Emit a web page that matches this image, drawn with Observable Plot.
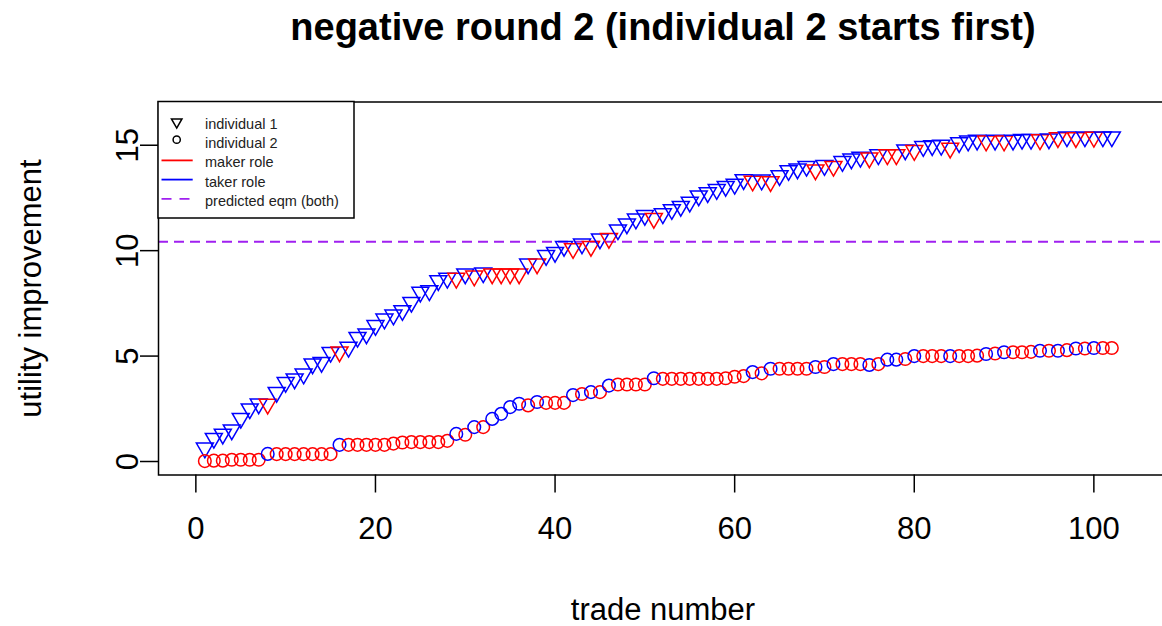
<!DOCTYPE html>
<html>
<head>
<meta charset="utf-8">
<script src="https://cdn.jsdelivr.net/npm/d3@7"></script>
<script src="https://cdn.jsdelivr.net/npm/@observablehq/plot@0.6"></script>
<style>
  html, body { margin: 0; padding: 0; background: white; overflow: hidden; }
  #wrap { position: relative; width: 1162px; height: 626px; font-family: "Liberation Sans", Arial, sans-serif; }
  #title { position: absolute; left: 0; width: 1326px; top: 8px; text-align: center; font-weight: bold; font-size: 38px; line-height: 38px; white-space: nowrap; }
  #xlab { position: absolute; left: 0; width: 1326px; top: 594px; text-align: center; font-size: 31px; line-height: 31px; white-space: nowrap; }
  #ylab { position: absolute; left: -170px; width: 400px; top: 272.5px; text-align: center; font-size: 31px; line-height: 31px; transform: rotate(-90deg); white-space: nowrap; }
  #chart { position: absolute; left: 0; top: 0; }
  #legend { position: absolute; left: 0; top: 0; }
</style>
</head>
<body>
<div id="wrap">
  <div id="chart"></div>
  <div id="title">negative round 2 (individual 2 starts first)</div>
  <div id="xlab">trade number</div>
  <div id="ylab">utility improvement</div>
  <svg id="legend" width="360" height="230"></svg>
</div>
<script>
// ---- data ----
const individual1 = [
  0.64, 1.1, 1.3, 1.5, 2.05, 2.5, 2.73, 2.72, 3.28, 3.75,
  3.92, 4.15, 4.63, 4.7, 5.18, 5.2, 5.42, 5.89, 6.05, 6.45,
  6.76, 6.95, 7.16, 7.55, 8.03, 8.1, 8.58, 8.69, 8.69, 8.9,
  8.8, 8.95, 8.9, 8.9, 8.9, 8.9, 9.37, 9.37, 9.77, 9.92,
  10.2, 10.1, 10.32, 10.2, 10.56, 10.58, 10.99, 11.27, 11.5, 11.67,
  11.53, 11.75, 11.95, 12.1, 12.3, 12.6, 12.75, 12.9, 13.05, 13.15,
  13.37, 13.3, 13.35, 13.27, 13.56, 13.8, 13.88, 14.0, 13.83, 14.04,
  14.0, 14.23, 14.35, 14.43, 14.4, 14.55, 14.55, 14.55, 14.78, 14.75,
  14.94, 14.98, 15.0, 14.86, 15.12, 15.2, 15.24, 15.2, 15.24, 15.2,
  15.24, 15.28, 15.28, 15.26, 15.3, 15.36, 15.4, 15.36, 15.4, 15.38,
  15.4, 15.4
];
const individual2 = [
  0.02, 0.04, 0.04, 0.08, 0.08, 0.08, 0.08, 0.36, 0.35, 0.35,
  0.35, 0.35, 0.35, 0.35, 0.35, 0.79, 0.79, 0.79, 0.79, 0.79,
  0.79, 0.85, 0.9, 0.92, 0.92, 0.92, 0.92, 0.98, 1.31, 1.27,
  1.63, 1.63, 2.02, 2.26, 2.58, 2.74, 2.66, 2.82, 2.78, 2.78,
  2.78, 3.15, 3.2, 3.29, 3.29, 3.6, 3.65, 3.65, 3.65, 3.65,
  3.95, 3.92, 3.92, 3.92, 3.92, 3.92, 3.92, 3.92, 3.95, 4.02,
  4.05, 4.24, 4.18, 4.4, 4.4, 4.4, 4.4, 4.4, 4.48, 4.48,
  4.62, 4.62, 4.62, 4.62, 4.58, 4.62, 4.83, 4.83, 4.86, 5.0,
  5.0, 5.0, 5.0, 5.0, 5.0, 5.0, 5.02, 5.1, 5.12, 5.18,
  5.18, 5.18, 5.2, 5.25, 5.25, 5.25, 5.28, 5.36, 5.36, 5.38,
  5.38, 5.38
];
// trades in which individual 1 is the maker (individual 2 is then the taker)
const individual1MakerTrades = [8, 16, 29, 31, 33, 34, 35, 36, 38, 42, 44, 46, 51, 62, 64, 69, 71, 75, 77, 78, 80, 84, 88, 90, 94, 96, 98, 100];
const predictedEqm = 10.42;
const xTicks = [0, 20, 40, 60, 80, 100];
const yTicks = [0, 5, 10, 15];
const roleColors = {maker: "#ff0000", taker: "#0000ff"};
const eqmColor = "#a020f0";

// ---- tables ----
const makerSet = new Set(individual1MakerTrades);
const rows1 = individual1.map((v, i) => ({trade: i + 1, value: v, role: makerSet.has(i + 1) ? "maker" : "taker"}));
const rows2 = individual2.map((v, i) => ({trade: i + 1, value: v, role: makerSet.has(i + 1) ? "taker" : "maker"}));

// downward-pointing triangle like R's pch 6
const downTriangle = {
  draw(context, size) {
    const R = Math.sqrt(size / Math.PI);
    context.moveTo(0, 1.5551 * R);
    context.lineTo(1.3468 * R, -0.7776 * R);
    context.lineTo(-1.3468 * R, -0.7776 * R);
    context.closePath();
  }
};

const W = 1162, H = 626;
const chart = Plot.plot({
  width: W,
  height: H,
  marginLeft: 158,
  marginRight: -5,
  marginTop: 101.5,
  marginBottom: H - 474.5,
  x: {domain: [-4.16, 108.2]},
  y: {domain: [-0.64, 17.05]},
  style: {fontFamily: "'Liberation Sans', Arial, sans-serif", fontSize: "31px", color: "black", background: "white", overflow: "hidden"},
  marks: [
    Plot.ruleY([predictedEqm], {stroke: eqmColor, strokeWidth: 2, strokeDasharray: "10,6"}),
    Plot.dot(rows1, {x: "trade", y: "value", symbol: downTriangle, r: 6.3, fill: "none", strokeWidth: 1.5, stroke: d => roleColors[d.role]}),
    Plot.dot(rows2, {x: "trade", y: "value", symbol: "circle", r: 6.3, fill: "none", strokeWidth: 1.5, stroke: d => roleColors[d.role]}),
    Plot.frame({stroke: "black", strokeWidth: 1.5}),
    Plot.axisX({ticks: xTicks, tickSize: 18, tickPadding: 24, label: null, strokeWidth: 1.5, tickFormat: d => String(d)}),
    Plot.axisY({ticks: yTicks, tickSize: 18, tickRotate: -90, label: null, strokeWidth: 1.5, tickFormat: d => String(d)})
  ]
});
document.getElementById("chart").appendChild(chart);

// ---- legend (top-left inside the plot) ----
const lg = d3.select("#legend");
lg.append("rect").attr("x", 158).attr("y", 101.5).attr("width", 196).attr("height", 116.5)
  .attr("fill", "white").attr("stroke", "black").attr("stroke-width", 1.5);
const entries = [
  {label: "individual 1", kind: "tri"},
  {label: "individual 2", kind: "circ"},
  {label: "maker role", kind: "line", color: roleColors.maker},
  {label: "taker role", kind: "line", color: roleColors.taker},
  {label: "predicted eqm (both)", kind: "dash", color: eqmColor}
];
entries.forEach((e, i) => {
  const cy = 122 + i * 19.2;
  if (e.kind === "tri") {
    const R = 3.9;
    lg.append("path").attr("d", `M${176.7},${cy + 1.5551 * R}L${176.7 + 1.3468 * R},${cy - 0.7776 * R}L${176.7 - 1.3468 * R},${cy - 0.7776 * R}Z`)
      .attr("fill", "none").attr("stroke", "black").attr("stroke-width", 1.5);
  } else if (e.kind === "circ") {
    lg.append("circle").attr("cx", 176.7).attr("cy", cy - 1.5).attr("r", 3.6)
      .attr("fill", "none").attr("stroke", "black").attr("stroke-width", 1.5);
  } else {
    lg.append("line").attr("x1", 161.5).attr("x2", 192.7).attr("y1", cy).attr("y2", cy)
      .attr("stroke", e.color).attr("stroke-width", 1.8)
      .attr("stroke-dasharray", e.kind === "dash" ? "10,8" : null);
  }
  lg.append("text").attr("x", 205).attr("y", cy + 2).attr("dy", "0.35em")
    .attr("font-family", "'Liberation Sans', Arial, sans-serif").attr("font-size", 14.5)
    .attr("fill", "#222").text(e.label);
});
</script>
</body>
</html>
